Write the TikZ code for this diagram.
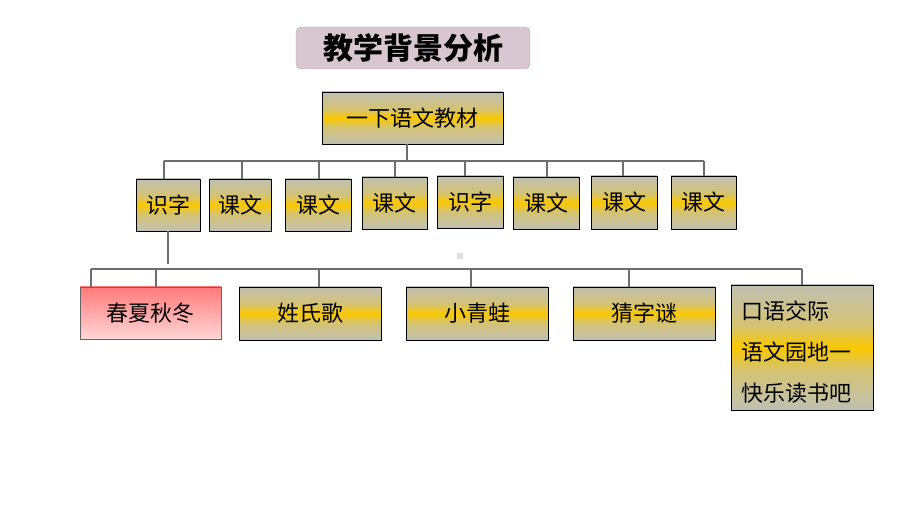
\documentclass[tikz,border=0pt]{standalone}
\usepackage{fontspec}
\newfontfamily\cjk{Noto Sans CJK SC}
\definecolor{gy}{RGB}{192,192,178}
\definecolor{gd}{RGB}{250,200,0}
\definecolor{pktop}{RGB}{255,122,122}
\definecolor{pkbot}{RGB}{255,214,214}
\definecolor{ttl}{RGB}{216,198,208}
\definecolor{ln}{RGB}{110,110,110}
\pgfdeclareverticalshading{goldsh}{100bp}{color(0bp)=(gy); color(25bp)=(gy); color(41bp)=(gy!65!gd); color(50bp)=(gd); color(59bp)=(gy!65!gd); color(75bp)=(gy); color(100bp)=(gy)}
\begin{document}
\begin{tikzpicture}[x=1pt,y=-1pt,
  goldbox/.style={draw=black, line width=0.9pt, shading=goldsh,
    inner sep=0pt, font=\cjk\fontsize{22}{24}\selectfont},
  pinkbox/.style={draw=black!60, line width=0.9pt, top color=pktop, bottom color=pkbot,
    inner sep=0pt, font=\cjk\fontsize{22}{24}\selectfont},
  conn/.style={draw=ln, line width=1.1pt},
  rtext/.style={anchor=west, inner sep=0pt, font=\cjk\fontsize{22}{24}\selectfont}]
\useasboundingbox (0,0) rectangle (920,518);
% title
\node[fill=ttl, draw=ttl!85!black, rounded corners=5pt, minimum width=234pt, minimum height=42pt,
  inner sep=0pt, font=\cjk\bfseries\fontsize{30}{31}\selectfont] (title) at (413,48) {教学背景分析};
% top box
\node[goldbox, minimum width=181pt, minimum height=52pt] (top) at (412.5,118) {一下语文教材};
% row 2
\node[goldbox, minimum width=64pt, minimum height=52pt] (a1) at (168,205) {识字};
\node[goldbox, minimum width=62pt, minimum height=52pt] (a2) at (240,205) {课文};
\node[goldbox, minimum width=66pt, minimum height=52pt] (a3) at (318,205) {课文};
\node[goldbox, minimum width=65pt, minimum height=52pt] (a4) at (394.5,203) {课文};
\node[goldbox, minimum width=66pt, minimum height=52pt] (a5) at (470,202) {识字};
\node[goldbox, minimum width=66pt, minimum height=52pt] (a6) at (546,203) {课文};
\node[goldbox, minimum width=66pt, minimum height=53pt] (a7) at (624,202.5) {课文};
\node[goldbox, minimum width=65pt, minimum height=53pt] (a8) at (703.5,202.5) {课文};
% row 2 bus
\coordinate (s0) at (407,161);
\foreach \i/\x in {1/164,2/242,3/319,4/395,5/465,6/547,7/623,8/704}{
  \coordinate (b\i) at (\x,161);
}
\draw[conn] ([xshift=-5.5pt]top.south) -- (s0);
\draw[conn] (b1) -- (b8);
\foreach \i in {1,...,8}{
  \draw[conn] (b\i) -- (b\i |- a\i.north);
}
% row 3
\node[pinkbox, minimum width=141pt, minimum height=52pt] (c1) at (150.5,313) {春夏秋冬};
\node[goldbox, minimum width=142pt, minimum height=53pt] (c2) at (310,313.5) {姓氏歌};
\node[goldbox, minimum width=142pt, minimum height=53pt] (c3) at (477,313.5) {小青蛙};
\node[goldbox, minimum width=142pt, minimum height=53pt] (c4) at (644,313.5) {猜字谜};
\node[goldbox, minimum width=142pt, minimum height=125pt] (c5) at (802,347.5) {};
\node[rtext] (t1) at (741,311) {口语交际};
\node[rtext] (t2) at (741,352) {语文园地一};
\node[rtext] (t3) at (741,393) {快乐读书吧};
% row 3 stem and bus
\coordinate (st) at (168,264);
\draw[conn] (a1.south) -- (st);
\coordinate (d0) at (91,269);
\coordinate (d1) at (156,269);
\coordinate (d2) at (319,269);
\coordinate (d3) at (471,269);
\coordinate (d4) at (629,269);
\coordinate (d5) at (802,269);
\draw[conn] (d0) -- (d5);
\draw[conn] (d0) -- (d0 |- c1.north);
\foreach \i in {1,...,5}{
  \draw[conn] (d\i) -- (d\i |- c\i.north);
}
% small grey mark
\fill[black!12] (457,253) rectangle (463,259);
\end{tikzpicture}
\end{document}
